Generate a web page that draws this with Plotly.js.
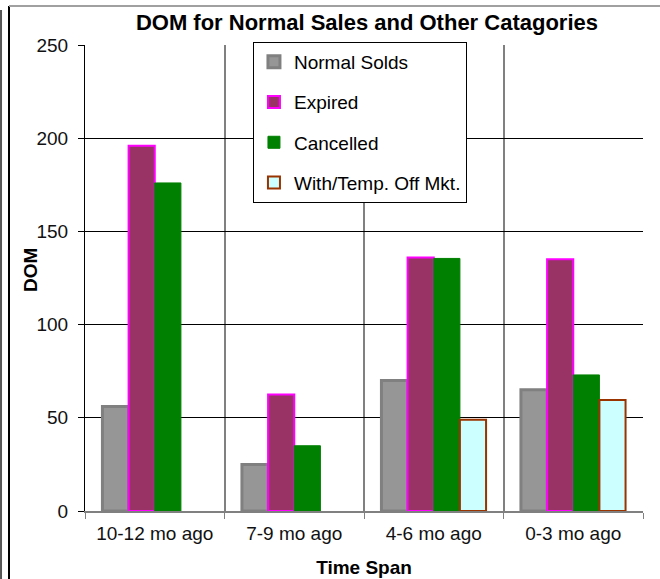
<!DOCTYPE html>
<html>
<head>
<meta charset="utf-8">
<script src="https://cdn.plot.ly/plotly-3.0.1.min.js"></script>
<style>body{margin:0;background:#fff}#chart{width:660px;height:579px}</style>
</head>
<body>
<div id="chart"></div>
<script>
var categories = ["10-12 mo ago", "7-9 mo ago", "4-6 mo ago", "0-3 mo ago"];
var normalSolds = [56, 25, 70, 65];
var expired = [196, 62.5, 136, 135];
var cancelled = [176, 35, 135.5, 73];
var withTemp = [null, null, 49, 59.5];
var seriesNames = ["Normal Solds", "Expired", "Cancelled", "With/Temp. Off Mkt."];
var yTicks = [0, 50, 100, 150, 200, 250];

var font = "Arial, 'Liberation Sans', sans-serif";
function bar(name, y, fill, line, lw, grp) {
  return {type: "bar", name: name, x: categories, y: y, legendgroup: grp,
    marker: {color: fill, line: {color: line, width: lw}}, hoverinfo: "x+y"};
}
var data = [
  bar(seriesNames[0], normalSolds, "#969696", "#808080", 3, "a"),
  bar(seriesNames[1], expired, "#993366", "#FF00FF", 2, "b"),
  bar(seriesNames[2], cancelled, "#008000", "#008000", 1, "c"),
  bar(seriesNames[3], withTemp, "#CCFFFF", "#993300", 2, "d")
];
var layout = {
  width: 660, height: 579,
  margin: {l: 85, r: 17, t: 45, b: 68},
  paper_bgcolor: "#fff", plot_bgcolor: "#fff",
  font: {family: font, color: "#000"},
  barmode: "group", bargap: 0.25, bargroupgap: 0,
  title: {text: "<b>DOM for Normal Sales and Other Catagories</b>", font: {size: 22, family: font}, x: 0.556, xanchor: "center", y: 0.962, yanchor: "middle"},
  showlegend: true,
  legend: {x: 0.301, y: 1.0064, xanchor: "left", yanchor: "top", bgcolor: "#fff", bordercolor: "#000", borderwidth: 1,
    font: {size: 19, family: font}, tracegroupgap: 12.5, traceorder: "grouped", itemwidth: 30},
  xaxis: {title: {text: "<b>Time Span</b>", font: {size: 19}, standoff: 18},
    tickfont: {size: 19, color: "#111"}, tickson: "boundaries", ticks: "outside", ticklen: 6, tickcolor: "#808080", tickwidth: 1, ticklabelstandoff: 4,
    showline: true, linecolor: "#808080", linewidth: 2, showgrid: true, gridcolor: "#808080", gridwidth: 2, fixedrange: true},
  yaxis: {range: [0, 250], tickvals: yTicks, ticktext: yTicks.map(String),
    tickfont: {size: 19, color: "#111"}, ticks: "outside", ticklen: 6, tickcolor: "#000", ticklabelstandoff: 6,
    showline: true, linecolor: "#000", linewidth: 1, showgrid: true, gridcolor: "#000", gridwidth: 1, zeroline: false, fixedrange: true},
  annotations: [
    {text: "<b>DOM</b>", xref: "paper", yref: "paper", x: -0.0986, y: 0.517, textangle: -90, showarrow: false,
      xanchor: "center", yanchor: "middle", font: {size: 19, family: font, color: "#000"}}
  ],
  shapes: [
    {type: "line", xref: "paper", yref: "paper", x0: -0.1362, x1: -0.1362, y0: -0.16, y1: 1.0837, line: {color: "#000", width: 2}},
    {type: "line", xref: "paper", yref: "paper", x0: -0.1362, x1: 1.04, y0: 1.0837, y1: 1.0837, line: {color: "#a0a0a0", width: 2}},
    {type: "line", xref: "paper", yref: "paper", x0: -0.1505, x1: -0.1505, y0: -0.16, y1: 1.075, line: {color: "#555", width: 2}}
  ]
};
Plotly.newPlot("chart", data, layout, {displayModeBar: false, staticPlot: true});
</script>
</body>
</html>
